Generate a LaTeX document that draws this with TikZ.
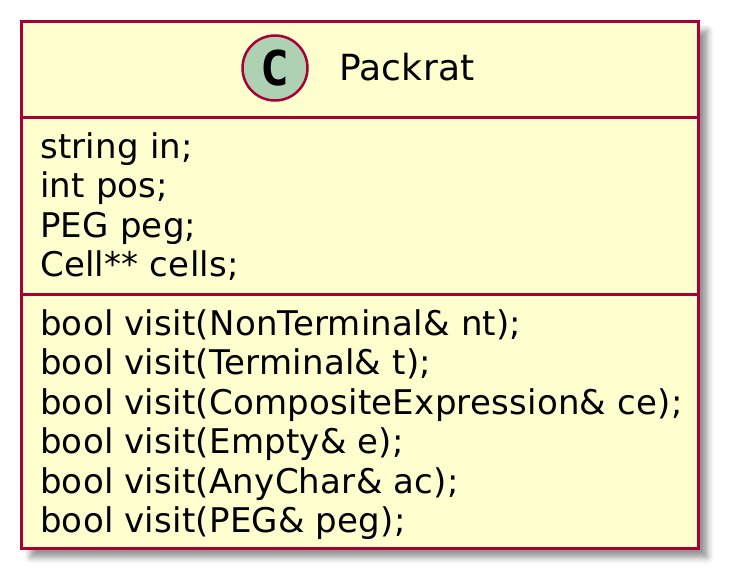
\documentclass[tikz,border=0pt]{standalone}
\usepackage{fontspec}
\setmainfont{DejaVu Sans}[LetterSpace=0.7]
\setmonofont{DejaVu Sans Mono}
\usepackage{xcolor}
\usetikzlibrary{shapes,positioning,shadows,shadows.blur}
\definecolor{umlborder}{RGB}{168,0,54}
\definecolor{umlfill}{RGB}{254,254,206}
\definecolor{umlcircle}{RGB}{173,209,178}

\begin{document}
\begin{tikzpicture}[x=1pt, y=-1pt,
    classbox/.style={draw=umlborder, line width=3pt, fill=umlfill, rectangle, inner sep=0pt,
        blur shadow={shadow xshift=9pt, shadow yshift=-9pt, shadow blur radius=6pt, shadow opacity=42}},
    sepline/.style={draw=umlborder, line width=3pt},
    member/.style={anchor=base west, inner sep=0pt, font=\fontsize{34}{39.5}\selectfont}]
    \useasboundingbox (0,0) rectangle (729,579);
    \node[classbox, minimum width=677pt, minimum height=527pt] (packrat) at (360,285) {};
    \node[draw=umlborder, line width=2.5pt, fill=umlcircle, circle, minimum size=65pt, inner sep=0pt,
        font=\ttfamily\bfseries\fontsize{48}{48}\selectfont] (kind) at (275,68) {C};
    \node[anchor=base west, inner sep=0pt, font=\fontsize{36}{40}\selectfont] (name) at (339,80.5) {Packrat};
    \draw[sepline] (packrat.west |- 0,117) -- (packrat.east |- 0,117);
    \draw[sepline] (packrat.west |- 0,294) -- (packrat.east |- 0,294);
    % attributes
    \foreach \txt [count=\i] in {{string in;}, {int pos;}, {PEG peg;}, {Cell** cells;}}
        \node[member] (attr\i) at ({40},{158+39.5*(\i-1)}) {\txt};
    % methods
    \foreach \txt [count=\i] in {{bool visit(NonTerminal\& nt);}, {bool visit(Terminal\& t);},
        {bool visit(CompositeExpression\& ce);}, {bool visit(Empty\& e);},
        {bool visit(AnyChar\& ac);}, {bool visit(PEG\& peg);}}
        \node[member] (meth\i) at ({40},{335+39.5*(\i-1)}) {\txt};
\end{tikzpicture}
\end{document}
